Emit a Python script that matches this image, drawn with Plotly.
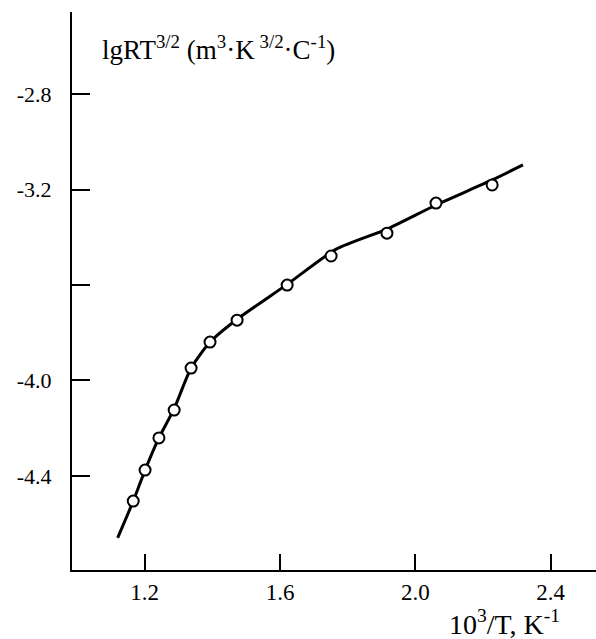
import plotly.graph_objects as go

# Measured data points (open circles)
pts_x = [1.166, 1.201, 1.242, 1.287, 1.337, 1.393, 1.473, 1.621, 1.751, 1.916, 2.061, 2.227]
pts_y = [-4.506, -4.376, -4.241, -4.124, -3.948, -3.839, -3.747, -3.600, -3.478, -3.382, -3.256, -3.180]

# Fitted curve
curve_x = [1.12, 1.166, 1.201, 1.242, 1.287, 1.337, 1.393, 1.473, 1.621, 1.766, 1.916, 2.061, 2.227, 2.318]
curve_y = [-4.66, -4.506, -4.376, -4.241, -4.118, -3.948, -3.839, -3.743, -3.597, -3.449, -3.365, -3.264, -3.159, -3.096]

x_ticks = [1.2, 1.6, 2.0, 2.4]
x_ticktext = ["1.2", "1.6", "2.0", "2.4"]
y_ticks = [-2.8, -3.2, -3.6, -4.0, -4.4]
y_ticktext = ["-2.8", "-3.2", "", "-4.0", "-4.4"]

FONT = "Liberation Serif, Times New Roman, serif"

fig = go.Figure()
fig.add_trace(go.Scatter(
    x=curve_x, y=curve_y, mode="lines",
    line=dict(color="black", width=3, shape="spline", smoothing=0.6),
    showlegend=False, hoverinfo="skip"))
fig.add_trace(go.Scatter(
    x=pts_x, y=pts_y, mode="markers",
    marker=dict(symbol="circle", size=11, color="white",
                line=dict(color="black", width=2)),
    showlegend=False))

fig.update_layout(
    width=596, height=639,
    margin=dict(l=72, r=0, t=12, b=69),
    paper_bgcolor="white", plot_bgcolor="white",
    font=dict(family=FONT, size=22, color="black"),
    xaxis=dict(range=[0.985, 2.534], showgrid=False, zeroline=False,
               showline=True, linecolor="black", linewidth=2,
               ticks="inside", ticklen=16, tickwidth=2, tickcolor="black",
               tickvals=x_ticks, ticktext=x_ticktext,
               tickfont=dict(family=FONT, size=23),
               ticklabelstandoff=0),
    yaxis=dict(range=[-4.795, -2.4545], showgrid=False, zeroline=False,
               showline=True, linecolor="black", linewidth=2,
               ticks="inside", ticklen=18, tickwidth=2, tickcolor="black",
               tickvals=y_ticks, ticktext=y_ticktext,
               tickfont=dict(family=FONT, size=22),
               ticklabelstandoff=14),
    annotations=[
        dict(text="lgRT<sup>3/2</sup> (m<sup>3</sup>·K<sup> 3/2</sup>·C<sup>-1</sup>)",
             xref="paper", yref="paper", x=(100 - 72) / 524, y=(570 - 48) / 558,
             xanchor="left", yanchor="middle", showarrow=False,
             font=dict(family=FONT, size=27)),
        dict(text="10<sup>3</sup>/T, K<sup>-1</sup>",
             xref="paper", yref="paper", x=(504 - 72) / 524, y=(570 - 622) / 558,
             xanchor="center", yanchor="middle", showarrow=False,
             font=dict(family=FONT, size=28)),
    ],
)

fig.write_html("out.html", config={"displayModeBar": False},
               post_script="document.body.style.margin='0';")
